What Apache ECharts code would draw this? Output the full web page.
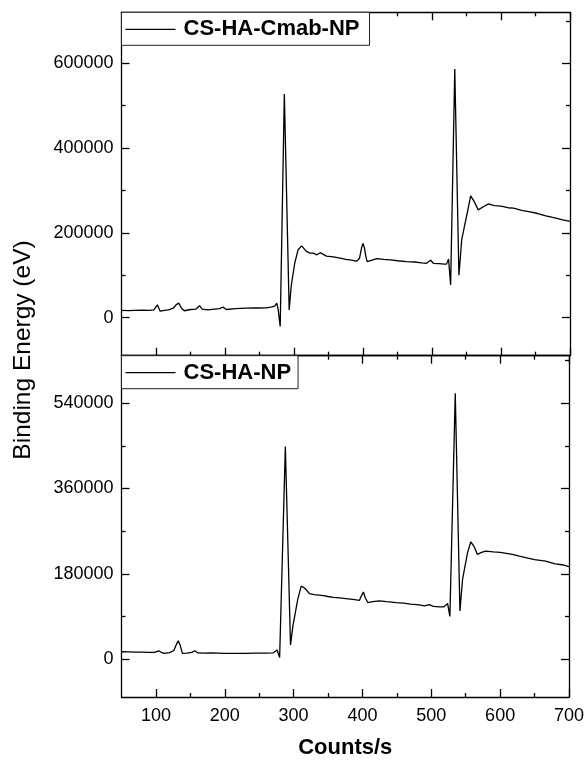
<!DOCTYPE html>
<html><head><meta charset="utf-8">
<script src="https://cdn.jsdelivr.net/npm/echarts@6/dist/echarts.min.js"></script>
<style>html,body{margin:0;padding:0;background:#fff}#c{width:587px;height:760px}</style>
</head><body><div id="c"></div>
<script>
// ---- data ----
const topName = 'CS-HA-Cmab-NP';
const botName = 'CS-HA-NP';
const xTitle = 'Counts/s';
const yTitle = 'Binding Energy (eV)';

const topX = [50,60,70,80,90,97,102,106,110,118,125,129,133,137,141,150,158,163,167,175,185,192,197,202,215,230,245,260,268,272,275,277,280,286,293,296,301,306,311,318,323,328,333,338,347,357,367,375,381,387,391,395,398,400,402,404,406,412,420,430,440,450,463,475,485,492,498,502,510,518,521,524,527,533,539,541,543,547,551,556,561,567,575,582,590,600,610,618,630,640,652,665,675,688,700];
const topY = [17000,16500,17000,17500,17000,18000,30000,15000,16500,18000,22000,30000,34000,22000,16000,19000,20000,28000,20000,18000,20000,21000,24500,19000,21000,22000,22500,23000,25000,27000,34000,20000,-21000,527000,18000,75000,128000,160000,169000,156000,152000,152000,148000,153000,145000,143000,140000,137000,136000,134000,133000,140000,165000,175000,165000,145000,132000,135000,139000,137000,136000,134000,132000,131000,129000,128000,135000,128000,127000,126000,126000,138000,77000,586000,100000,140000,183000,215000,246000,287000,274000,254000,262000,268000,264000,263000,259000,258000,253000,250000,246000,240000,236000,231000,227000];

const botX = [50,60,70,80,90,98,104,108,112,120,126,130,132.5,135,138.5,145,152,156.5,161,170,180,190,200,215,230,245,260,270,276,279.7,288,295.5,299,306,311,316,323,330,337,343,350,358,367,376,386,395.7,399,401.4,404,407.7,415,424.6,435,448.8,460,470,482.6,490,497,503,511.6,518,523.7,527,534.8,541.6,545.4,552.6,557.4,562,567,573,579,590,600,617.8,628,637,650,666,680,690,700];
const botY = [15500,15000,14500,14500,14000,14000,17500,14000,12000,13500,18000,32000,38500,30000,12000,12500,14000,17500,13000,12500,13000,12500,12000,12000,12000,12500,12500,13000,19000,3500,448500,29500,70000,126000,154000,150000,138000,136000,135000,134000,132000,130000,129000,127600,126000,124000,135000,141500,130000,119200,121000,122600,121000,119200,118000,116000,114200,112000,115000,111000,110000,110000,117000,89800,560800,101600,168000,224000,247400,238000,220800,225000,227700,226000,225000,220800,217000,213800,210000,206700,201000,199000,195000];

const xMajorTicks = [100,200,300,400,500,600,700];
const xMinorTicks = [150,250,350,450,550,650];
const topYMajor = [0,200000,400000,600000];
const topYMinor = [100000,300000,500000,700000];
const botYMajor = [0,180000,360000,540000];
const botYMinor = [90000,270000,450000,630000];

// ---- layout ----
const FONT = '"Liberation Sans", Arial, sans-serif';
const L = 121.5, R = 17;
const grids = [
  {left: L, right: R, top: 12.3, height: 343.4},
  {left: L, right: R, top: 355.7, height: 342.3}
];
const AX = {color: '#000', width: 1.3};

function makeX(gi, showLabels) {
  const defs = [['bottom', xMajorTicks, 8, showLabels, true], ['bottom', xMinorTicks, 4, false, false],
                ['top', xMajorTicks, 8, false, true], ['top', xMinorTicks, 4, false, false]];
  return defs.map(([pos, vals, len, lab, line]) => {
    const a = {
      type: 'value', gridIndex: gi, position: pos, min: 50, max: 700,
      axisLine: {show: line, onZero: false, lineStyle: AX},
      axisTick: {show: true, inside: true, length: len, customValues: vals, lineStyle: AX},
      axisLabel: {show: lab, customValues: xMajorTicks, margin: 10, color: '#000',
                  fontFamily: FONT, fontSize: 18, showMinLabel: true, showMaxLabel: true},
      splitLine: {show: false}
    };
    if (lab) {
      a.name = xTitle; a.nameLocation = 'middle'; a.nameGap = 40;
      a.nameTextStyle = {fontFamily: FONT, fontSize: 22, fontWeight: 'bold', color: '#000'};
    }
    return a;
  });
}
function makeY(gi, min, max, major, minor) {
  const defs = [['left', major, 8, true, true], ['left', minor, 4, false, false],
                ['right', major, 8, false, true], ['right', minor, 4, false, false]];
  return defs.map(([pos, vals, len, lab, line]) => ({
    type: 'value', gridIndex: gi, position: pos, min: min, max: max,
    axisLine: {show: line, onZero: false, lineStyle: AX},
    axisTick: {show: true, inside: true, length: len, customValues: vals, lineStyle: AX},
    axisLabel: {show: lab, customValues: major, margin: 8, color: '#000',
                fontFamily: FONT, fontSize: 18, formatter: v => String(v)},
    splitLine: {show: false}
  }));
}

const legendBase = {
  orient: 'horizontal', selectedMode: false, icon: 'rect', itemWidth: 50, itemHeight: 1.2, itemGap: 0,
  borderColor: '#222', borderWidth: 1, borderRadius: 0, backgroundColor: '#fff',
  itemStyle: {color: '#000', borderWidth: 0},
  textStyle: {fontFamily: FONT, fontSize: 22, fontWeight: 'bold', color: '#000', padding: [0, 0, 0, 3]}
};

const chart = echarts.init(document.getElementById('c'), null, {renderer: 'canvas'});
chart.setOption({
  animation: false,
  backgroundColor: '#fff',
  grid: grids,
  xAxis: [...makeX(0, false), ...makeX(1, true)],
  yAxis: [...makeY(0, -90000, 720000, topYMajor, topYMinor), ...makeY(1, -80000, 640000, botYMajor, botYMinor)],
  legend: [
    Object.assign({}, legendBase, {left: L, top: 12.3, padding: [6, 10, 5, 4], data: [topName]}),
    Object.assign({}, legendBase, {left: L, top: 355.7, padding: [6, 7, 5, 4], data: [botName]})
  ],
  graphic: [{
    type: 'text', x: 23, y: 350, rotation: Math.PI / 2,
    style: {text: yTitle, fontFamily: FONT, fontSize: 24.5, fill: '#000', textAlign: 'center', textVerticalAlign: 'middle'}
  }],
  series: [
    {type: 'line', name: topName, xAxisIndex: 0, yAxisIndex: 0, symbol: 'none',
     data: topX.map((x, i) => [x, topY[i]]), lineStyle: {color: '#000', width: 1.3}, itemStyle: {color: '#000'}},
    {type: 'line', name: botName, xAxisIndex: 4, yAxisIndex: 4, symbol: 'none',
     data: botX.map((x, i) => [x, botY[i]]), lineStyle: {color: '#000', width: 1.3}, itemStyle: {color: '#000'}}
  ]
});
</script>
</body></html>
